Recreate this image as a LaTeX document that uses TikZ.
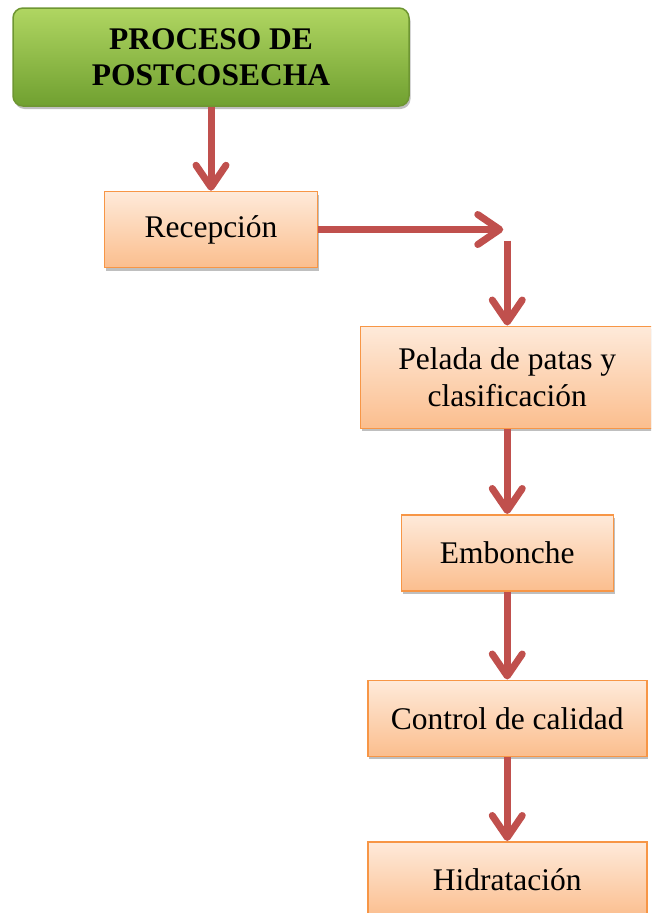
\documentclass[tikz,border=0pt]{standalone}
\usepackage{fontspec}
\setmainfont{Liberation Serif}
\usetikzlibrary{positioning,arrows.meta,shadows}
\definecolor{flowred}{RGB}{192,80,77}
\definecolor{stepline}{RGB}{247,150,70}
\definecolor{steptop}{RGB}{254,234,218}
\definecolor{stepbottom}{RGB}{251,190,142}
\definecolor{headline}{RGB}{110,150,50}
\definecolor{headtop}{RGB}{176,214,98}
\definecolor{headbottom}{RGB}{112,160,48}

\begin{document}
\begin{tikzpicture}[x=1pt,y=1pt]
  \useasboundingbox (0,0) rectangle (651,-913);
  \clip (0,0) rectangle (651,-913);
  \begin{scope}[
    every node/.style={
      draw=stepline,
      line width=1.5pt,
      top color=steptop,
      bottom color=stepbottom,
      minimum height=76pt,
      align=center,
      font=\fontsize{31.5}{37}\selectfont,
      drop shadow={shadow xshift=1.5pt,shadow yshift=-3pt,opacity=.25,fill=black},
    },
    ]
    \node[draw=headline,top color=headtop,bottom color=headbottom,
      rounded corners=10pt,minimum width=396pt,minimum height=98pt,
      font=\fontsize{31.5}{36.5}\selectfont\bfseries] (postTitle) at (211,-57)
      {PROCESO DE\\POSTCOSECHA};
    \node[below=84pt of postTitle,minimum width=213pt] (postRecep) {Recepción};
    \coordinate[right=185pt of postRecep] (postTurn);
    \coordinate[below right=11pt and 4pt of postTurn] (postDown);
    \node[below=85pt of postDown,minimum width=294pt,minimum height=102pt] (postPelada)
      {Pelada de patas y\\clasificación};
    \node[below=85pt of postPelada,minimum width=212pt] (postEmbonche) {Embonche};
    \node[below=88pt of postEmbonche,minimum width=279pt] (postControl) {Control de calidad};
    \node[below=84pt of postControl,minimum width=279pt] (postHidrata) {Hidratación};
  \end{scope}
  \begin{scope}[
    every path/.style={draw=flowred,line width=7pt},
    flow/.style={-{Straight Barb[length=22pt,width=30pt,round]}},
    ]
    \path[flow] (postTitle) -- (postRecep);
    \path[flow] (postRecep) -- (postTurn);
    \path[flow] (postDown) -- (postPelada);
    \path[flow] (postPelada) -- (postEmbonche);
    \path[flow] (postEmbonche) -- (postControl);
    \path[flow] (postControl) -- (postHidrata);
  \end{scope}
\end{tikzpicture}
\end{document}
